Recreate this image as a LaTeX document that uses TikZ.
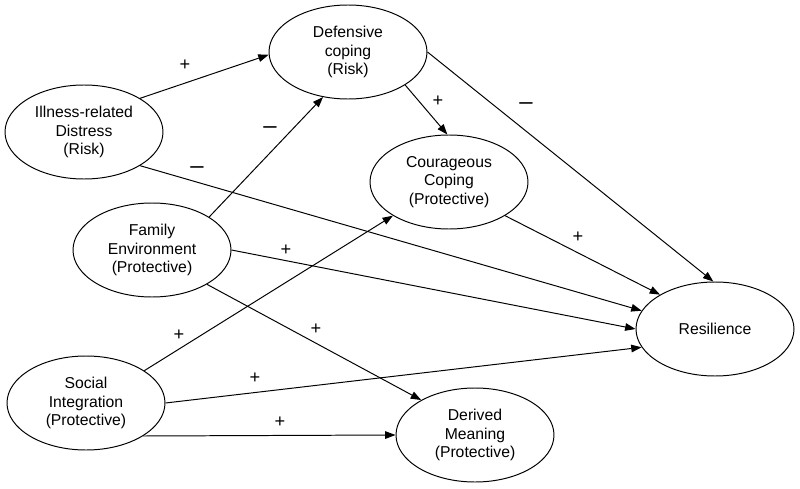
\documentclass[tikz,border=0pt]{standalone}
\usepackage{fontspec}
\setmainfont{Liberation Sans}
\usepackage{tikz}
\usetikzlibrary{shapes.geometric, arrows.meta}

\begin{document}
\begin{tikzpicture}[
    factor/.style={ellipse, draw, line width=0.7pt, inner sep=0pt,
                minimum width=3.95cm, minimum height=2.35cm,
                align=center, font=\fontsize{11.2}{13}\selectfont},
    effect/.style={-{Triangle[length=2.6mm, width=1.9mm]}, line width=0.7pt},
    sign/.style={inner sep=0pt, font=\fontsize{13}{15}\selectfont},
    neg/.style={sign, font=\fontsize{17}{19}\selectfont},
]
    \useasboundingbox (0,0) rectangle (20,12.2);

    \node[factor] (ill) at (2.1, 8.9) {Illness-related\\Distress\\(Risk)};
    \node[factor] (def) at (8.7, 10.9) {Defensive\\coping\\(Risk)};
    \node[factor] (cour) at (11.225, 7.65) {Courageous\\Coping\\(Protective)};
    \node[factor] (fam) at (3.8, 5.95) {Family\\Environment\\(Protective)};
    \node[factor] (res) at (17.875, 3.975) {Resilience};
    \node[factor] (soc) at (2.15, 2.125) {Social\\Integration\\(Protective)};
    \node[factor] (der) at (11.875, 1.325) {Derived\\Meaning\\(Protective)};

    \draw[effect] (ill.31) -- (def.182);
    \draw[effect] (def.-30) -- (cour.92);
    \draw[effect] (def.east) -- (res.92);
    \draw[effect] (ill.-31) -- (res.166);
    \draw[effect] (fam.30) -- (def.-119);
    \draw[effect] (fam.east) -- (res.west);
    \draw[effect] (fam.-32) -- (der.147);
    \draw[effect] (cour.-31) -- (res.148);
    \draw[effect] (soc.29) -- (cour.211);
    \draw[effect] (soc.east) -- (res.194);
    \draw[effect] (soc.-30) -- (der.west);

    % signs of the paths
    \node[sign] (s1) at (4.625, 10.575) {+};
    \node[sign] (s2) at (10.95, 9.675) {+};
    \node[neg] (s3) at (13.15, 9.55) {–};
    \node[neg] (s4) at (4.925, 7.95) {–};
    \node[neg] (s5) at (6.75, 8.95) {–};
    \node[sign] (s6) at (7.15, 5.95) {+};
    \node[sign] (s7) at (7.9, 3.975) {+};
    \node[sign] (s8) at (14.45, 6.275) {+};
    \node[sign] (s9) at (4.475, 3.825) {+};
    \node[sign] (s10) at (6.375, 2.75) {+};
    \node[sign] (s11) at (7.0, 1.65) {+};
\end{tikzpicture}
\end{document}
